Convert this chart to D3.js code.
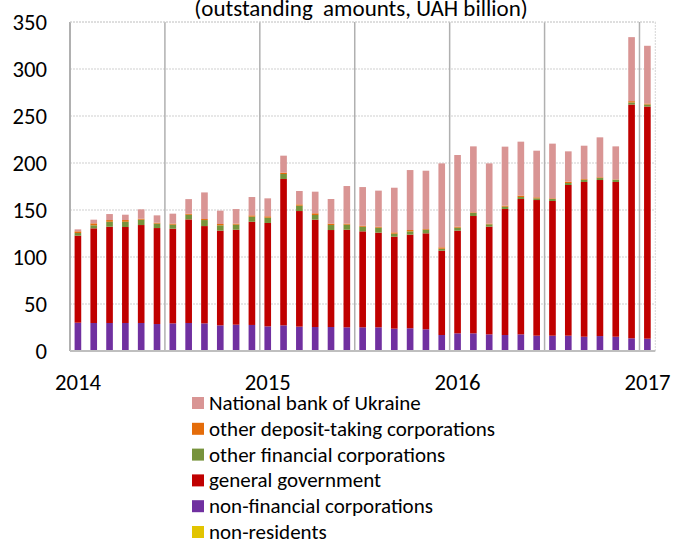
<!DOCTYPE html>
<html><head><meta charset="utf-8">
<script src="https://cdn.jsdelivr.net/npm/d3@7"></script>
<style>body{margin:0;background:#fff}svg{display:block}text{font-family:Carlito,Lato,"Open Sans",sans-serif;fill:#000}</style>
</head><body><svg id="c" width="673" height="540"></svg>
<script>
const months = d3.range(37).map(i => { const y = 2014 + Math.floor(i/12), m = i%12 + 1; return y + "-" + String(m).padStart(2,"0"); });
const yTicks = [0,50,100,150,200,250,300,350];
const xTickLabels = ["2014","2015","2016","2017"];
const seriesNames = ["non-residents","non-financial corporations","general government","other financial corporations","other deposit-taking corporations","National bank of Ukraine"];
const seriesColors = ["#E2C400","#7030A0","#C00000","#77933C","#E46C0A","#D99594"];
const nonResidents = [0.3,0.3,0.3,0.3,0.3,0.3,0.3,0.3,0.3,0.3,0.3,0.3,0.3,0.3,0.3,0.3,0.3,0.3,0.3,0.3,0.3,0.3,0.3,0.3,0.3,0.3,0.3,0.3,0.3,0.3,0.3,0.3,0.3,0.3,0.3,0.3,0.3];
const nonFinancial = [29.8,29.5,29.5,29.5,29.5,28.4,29.1,29.5,29.1,27.0,27.7,27.4,25.9,27.0,25.6,25.2,25.2,24.9,24.9,24.9,23.5,23.9,22.8,16.7,18.5,18.5,17.4,16.7,17.4,16.0,16.0,16.0,14.9,15.6,14.9,13.2,12.8];
const generalGov = [92.6,100.7,102.4,102.1,104.2,102.1,100.7,110.2,103.5,100.7,101.0,109.8,110.0,155.7,123.0,114.2,103.2,103.8,102.1,100.7,97.8,99.6,102.1,89.7,109.2,124.8,114.6,134.1,144.0,144.3,143.3,160.3,164.6,166.0,164.6,248.7,247.0];
const otherFinancial = [2.8,3.2,5.3,5.6,5.7,4.7,4.3,4.9,6.4,5.7,5.4,5.4,5.6,5.3,5.7,5.0,5.3,5.4,4.9,5.3,3.2,3.5,3.9,2.1,3.2,3.2,2.5,2.4,2.1,1.8,2.1,2.1,2.5,2.1,2.5,2.2,2.1];
const otherDeposit = [1.8,2.1,1.8,1.8,1.0,1.0,1.1,1.1,1.1,1.4,1.1,1.4,1.5,1.4,1.4,1.8,1.5,1.1,1.1,1.0,1.4,1.4,0.7,1.5,1.1,0.7,0.7,1.1,1.5,1.1,0.7,1.4,0.7,0.8,0.3,1.4,1.1];
const nbu = [2.1,3.9,6.4,5.7,10.0,7.8,10.6,15.6,28.3,14.2,15.5,19.5,19.1,18.1,14.2,23.0,26.2,40.0,41.1,38.4,47.5,63.8,62.0,89.3,76.2,70.2,64.1,62.8,57.4,49.6,58.2,32.3,35.4,42.5,35.1,68.1,61.4];

const seriesValues = [nonResidents, nonFinancial, generalGov, otherFinancial, otherDeposit, nbu];
const table = months.map((m,i) => { const o = {month:m}; seriesNames.forEach((s,k)=> o[s] = seriesValues[k][i]); return o; });

const FONT = "Carlito,Lato,'Open Sans',sans-serif";
const svg = d3.select("#c");
const L = 70, R = 655.3, T = 22, B = 351;
const x = d3.scaleBand().domain(months).range([L,R]).padding(0);
const y = d3.scaleLinear().domain([0,350]).range([B,T]);
const color = d3.scaleOrdinal().domain(seriesNames).range(seriesColors);

// gridlines
svg.append("g").selectAll("line").data(yTicks.filter(v=>v>0)).join("line")
  .attr("x1",L).attr("x2",R).attr("y1",d=>y(d)).attr("y2",d=>y(d))
  .attr("stroke","#CFCFCF").attr("stroke-width",1).attr("stroke-dasharray","2,1");
svg.append("line").attr("x1",R).attr("x2",R).attr("y1",T).attr("y2",B)
  .attr("stroke","#D6D6D6").attr("stroke-dasharray","2,1");

// half-year separators
const seps = months.filter((m,i)=> i>0 && i%6===0);
svg.append("g").selectAll("line").data(seps).join("line")
  .attr("x1",d=>x(d)).attr("x2",d=>x(d)).attr("y1",T).attr("y2",B)
  .attr("stroke","#B0B0B0").attr("stroke-width",1.5);

// stacked bars
const stack = d3.stack().keys(seriesNames)(table);
const bw = x.bandwidth()*0.42;
svg.append("g").selectAll("g").data(stack).join("g")
  .attr("fill", d=>color(d.key))
  .selectAll("rect").data(d=>d).join("rect")
  .attr("x", d=> x(d.data.month) + (x.bandwidth()-bw)/2)
  .attr("width", bw)
  .attr("y", d=> y(d[1]))
  .attr("height", d=> Math.max(0, y(d[0]) - y(d[1])));

// axes lines
svg.append("line").attr("x1",L).attr("x2",L).attr("y1",T).attr("y2",B).attr("stroke","#B0B0B0").attr("stroke-width",2);
svg.append("line").attr("x1",L).attr("x2",R).attr("y1",B).attr("y2",B).attr("stroke","#BFBFBF").attr("stroke-width",2);
svg.append("line").attr("x1",L).attr("x2",R).attr("y1",T).attr("y2",T).attr("stroke","#D6D6D6").attr("stroke-dasharray","2,1");

// y labels
const yAxis = d3.axisLeft(y).tickValues(yTicks).tickSize(0).tickPadding(0);
const gy = svg.append("g").attr("transform",`translate(47,0)`).call(yAxis);
gy.select(".domain").remove();
gy.selectAll("text").attr("font-size",22.7).attr("font-family",FONT).attr("fill","#000");

// x labels
const xLabelMonths = [months[0], months[12], months[24], months[36]];
const xAxis = d3.axisBottom(x).tickValues(xLabelMonths).tickFormat((d,i)=>xTickLabels[i]).tickSize(0).tickPadding(0);
const gx = svg.append("g").attr("transform",`translate(0,374)`).call(xAxis);
gx.select(".domain").remove();
gx.selectAll("text").attr("font-size",22.7).attr("font-family",FONT).attr("fill","#000");

// title
svg.append("text").attr("x",361).attr("y",16).attr("text-anchor","middle").attr("font-size",23)
  .style("white-space","pre").text("(outstanding  amounts, UAH billion)");

// legend
const legendOrder = seriesNames.slice().reverse();
const lg = svg.append("g").selectAll("g").data(legendOrder).join("g")
  .attr("transform",(d,i)=>`translate(192,${403 + i*25.8})`);
lg.append("rect").attr("x",0).attr("y",-6).attr("width",12).attr("height",12).attr("fill",d=>color(d));
lg.append("text").attr("x",17).attr("y",7).attr("font-size",21).text(d=>d);
</script></body></html>
